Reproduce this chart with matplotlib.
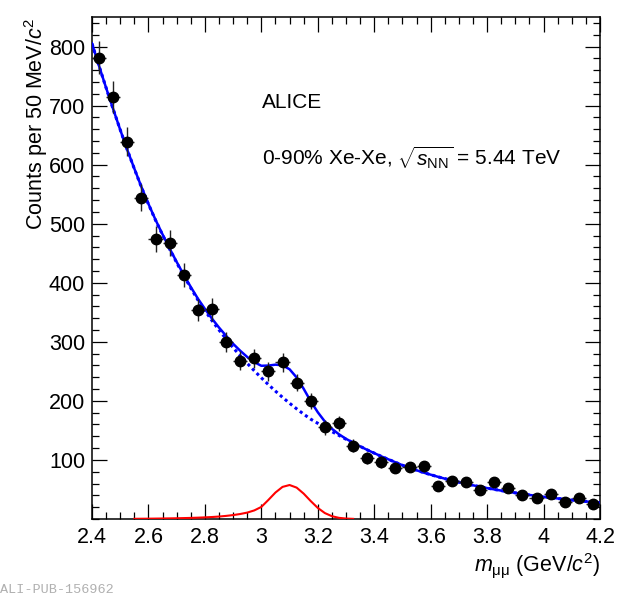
import numpy as np
import matplotlib
matplotlib.use("Agg")
import matplotlib.pyplot as plt
from matplotlib.ticker import MultipleLocator, FixedLocator

plt.rcParams['font.family'] = ['Liberation Sans', 'DejaVu Sans']
plt.rcParams['mathtext.fontset'] = 'custom'
plt.rcParams['mathtext.rm'] = 'Liberation Sans'
plt.rcParams['mathtext.it'] = 'Liberation Sans:italic'
plt.rcParams['mathtext.bf'] = 'Liberation Sans:bold'

# dimuon invariant mass spectrum, 50 MeV bins
mass = [2.425, 2.475, 2.525, 2.575, 2.625, 2.675, 2.725, 2.775, 2.825, 2.875,
        2.925, 2.975, 3.025, 3.075, 3.125, 3.175, 3.225, 3.275, 3.325, 3.375,
        3.425, 3.475, 3.525, 3.575, 3.625, 3.675, 3.725, 3.775, 3.825, 3.875,
        3.925, 3.975, 4.025, 4.075, 4.125, 4.175]
counts = [781, 715, 639, 544, 474, 468, 413, 354, 355, 300,
          268, 272, 250, 265, 231, 200, 155, 162, 124, 103,
          97, 87, 88, 89, 56, 65, 63, 49, 62, 53,
          41, 35, 42, 28, 35, 25]
counts_err = [28, 27, 25, 23, 22, 22, 20, 19, 19, 17,
              16, 16, 16, 16, 15, 14, 12, 13, 11, 10,
              10, 9, 9, 9, 7.5, 8, 8, 7, 8, 7,
              6.5, 6, 6.5, 5.3, 6, 5]
bin_half = 0.025

# fit curves (25 MeV steps)
curve_x = np.arange(73) * 0.025 + 2.4
bkg = [805, 767, 730, 694, 659, 625, 593, 562, 533, 506,
       481, 457, 434, 412, 391, 371, 353, 336, 320, 305,
       290, 276.5, 263.5, 251, 239, 227.5, 216.5, 206, 196, 186.5,
       177.5, 169, 162, 155, 148, 141.5, 135, 129, 123, 117,
       111.5, 106, 101, 96, 91, 86.5, 82.5, 78.5, 75, 71.5,
       68.3, 65.2, 62.3, 59.5, 57, 54.6, 52.3, 50.1, 48, 46,
       44.2, 42.4, 40.7, 39.1, 37.6, 36.1, 34.7, 33.4, 32.1, 30.9,
       29.7, 28.6, 27.5]
jpsi = [0, 0, 0, 0, 0, 0, 0.3, 0.4, 0.5, 0.65,
        0.8, 1.0, 1.2, 1.5, 1.8, 2.2, 2.7, 3.3, 4.1, 5.2,
        6.6, 8.4, 10.8, 14.5, 20.4, 32.3, 44.8, 54.3, 57.5, 53.1,
        42.9, 30.3, 18.7, 10.0, 4.7, 1.9, 0.7, 0.2, 0, 0,
        0, 0, 0, 0, 0, 0, 0, 0, 0, 0,
        0, 0, 0, 0, 0, 0, 0, 0, 0, 0,
        0, 0, 0, 0, 0, 0, 0, 0, 0, 0,
        0, 0, 0]
jpsi_range = (2.55, 3.325)

x_major = [2.4, 2.6, 2.8, 3.0, 3.2, 3.4, 3.6, 3.8, 4.0, 4.2]
x_labels = ['2.4', '2.6', '2.8', '3', '3.2', '3.4', '3.6', '3.8', '4', '4.2']
y_major = [100, 200, 300, 400, 500, 600, 700, 800]

fs = 15.5

fig = plt.figure(figsize=(6.2, 5.97), dpi=100)
ax = fig.add_axes([0.1484, 0.1307, 0.8194, 0.8408])

bkg = np.array(bkg)
jpsi = np.array(jpsi)
total = bkg + jpsi
sel = (curve_x >= jpsi_range[0] - 1e-9) & (curve_x <= jpsi_range[1] + 1e-9)

ax.plot(curve_x, bkg, color='#0000ff', lw=2.2, ls=(0, (1, 1.1)), zorder=2)
ax.plot(curve_x, total, color='#0000ff', lw=1.8, zorder=3)
ax.plot(curve_x[sel], jpsi[sel], color='#ff0000', lw=1.5, zorder=3)

ax.errorbar(mass, counts, yerr=counts_err, xerr=bin_half, fmt='o', color='k',
            ecolor='#222222', elinewidth=1.0, capsize=0, markersize=7.5, zorder=4)

ax.set_xlim(2.4, 4.2)
ax.set_ylim(0, 850)
ax.xaxis.set_major_locator(FixedLocator(x_major))
ax.set_xticklabels(x_labels)
ax.xaxis.set_minor_locator(MultipleLocator(0.05))
ax.yaxis.set_major_locator(FixedLocator(y_major))
ax.yaxis.set_minor_locator(MultipleLocator(20))

ax.tick_params(which='both', direction='in', top=True, right=True, width=0.9)
ax.tick_params(which='major', length=10.5, labelsize=fs)
ax.tick_params(which='minor', length=5)
ax.tick_params(axis='x', which='major', pad=6)
ax.tick_params(axis='y', which='major', pad=5)
for s in ax.spines.values():
    s.set_linewidth(1.1)

ax.set_xlabel(r'$m_{\mathrm{\mu\mu}}$ (GeV/$c^2$)', fontsize=fs, loc='right', labelpad=2)
ax.set_ylabel(r'Counts per 50 MeV/$c^2$', fontsize=fs, loc='top', labelpad=-1)

ax.text(0.335, 0.829, 'ALICE', transform=ax.transAxes, fontsize=15,
        ha='left', va='center')
ax.text(0.335, 0.721, r'0-90% Xe-Xe, $\sqrt{s_{\mathrm{NN}}}$ = 5.44 TeV',
        transform=ax.transAxes, fontsize=15, ha='left', va='center')

fig.text(0.0, 0.0117, 'ALI-PUB-156962', fontsize=9.7, color='#b0b0b0',
         family='Liberation Mono', ha='left', va='center')

fig.savefig('out.png', dpi=100)
